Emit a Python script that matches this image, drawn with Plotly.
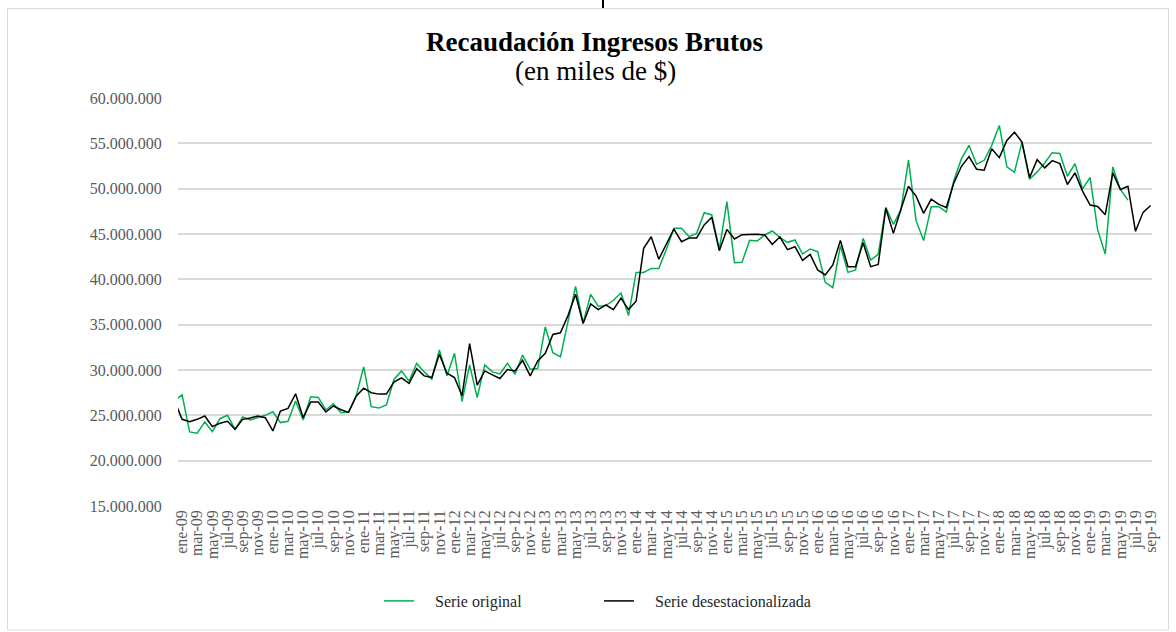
import plotly.graph_objects as go

# Monthly categories (first point dic-08 lies just outside the visible plot area, as in the reference)
meses = ["ene", "feb", "mar", "abr", "may", "jun", "jul", "ago", "sep", "oct", "nov", "dic"]
categorias = ["dic-08"] + [f"{m}-{y:02d}" for y in range(9, 20) for m in meses][:129]

# Values in millions of (miles de $)
serie_original_mill = [
    26.6, 27.27, 23.17, 23.02, 24.27, 23.2, 24.63, 25.0, 23.46, 24.82, 24.49, 24.78, 25.0,
    25.4, 24.2, 24.34, 26.58, 24.49, 27.05, 26.98, 25.59, 26.28, 25.29, 25.37, 27.1,
    30.35, 25.95, 25.8, 26.14, 28.96, 29.9, 28.77, 30.72, 29.79, 28.99, 32.2, 29.35,
    31.84, 26.54, 30.56, 26.97, 30.56, 29.79, 29.57, 30.74, 29.53, 31.65, 30.08, 30.16,
    34.76, 31.91, 31.44, 35.31, 39.22, 35.2, 38.35, 37.03, 37.1, 37.69, 38.49, 36.0,
    40.76, 40.76, 41.2, 41.2, 43.3, 45.63, 45.63, 44.71, 45.07, 47.35, 47.1, 43.31,
    48.57, 41.84, 41.88, 44.3, 44.23, 44.89, 45.33, 44.63, 44.08, 44.34, 42.79, 43.35,
    43.05, 39.67, 39.08, 43.71, 40.77, 41.03, 44.52, 42.13, 42.76, 47.94, 46.07, 47.65,
    53.15, 46.47, 44.28, 48.01, 48.01, 47.42, 50.93, 53.31, 54.78, 52.69, 53.13, 54.78,
    56.97, 52.4, 51.81, 55.14, 51.04, 51.85, 52.83, 53.97, 53.89, 51.37, 52.76, 49.98,
    51.23, 45.45, 42.78, 52.4, 49.91, 48.74,
]

serie_desest_mill = [
    26.6, 24.56, 24.3, 24.56, 24.93, 23.75, 24.12, 24.34, 23.46, 24.56, 24.7, 24.93, 24.74,
    23.28, 25.48, 25.77, 27.38, 24.74, 26.47, 26.47, 25.37, 26.03, 25.62, 25.33, 27.12,
    28.0, 27.49, 27.34, 27.34, 28.66, 29.14, 28.52, 30.13, 29.35, 29.17, 31.73, 29.64,
    29.17, 27.16, 32.9, 28.33, 29.9, 29.46, 29.06, 30.05, 29.9, 31.07, 29.35, 31.0,
    31.84, 33.92, 34.1, 36.0, 38.35, 35.13, 37.29, 36.66, 37.18, 36.66, 37.94, 36.66,
    37.58, 43.43, 44.7, 42.22, 43.8, 45.55, 44.15, 44.56, 44.56, 46.0, 46.84, 43.16,
    45.51, 44.45, 44.93, 44.96, 44.96, 44.89, 43.86, 44.67, 43.27, 43.6, 42.1, 42.76,
    41.03, 40.48, 41.58, 44.3, 41.4, 41.4, 44.04, 41.4, 41.65, 47.83, 45.07, 47.72,
    50.27, 49.18, 47.28, 48.85, 48.26, 47.93, 50.64, 52.47, 53.53, 52.14, 52.03, 54.41,
    53.42, 55.32, 56.23, 55.14, 51.22, 53.2, 52.29, 53.09, 52.76, 50.46, 51.74, 49.73,
    48.19, 48.04, 47.13, 51.74, 49.91, 50.27, 45.3, 47.39, 48.15,
]

serie_original = [v * 1_000_000 for v in serie_original_mill]
serie_desest = [v * 1_000_000 for v in serie_desest_mill]

tick_cats = categorias[1::2]
y_ticks = [15e6, 20e6, 25e6, 30e6, 35e6, 40e6, 45e6, 50e6, 55e6, 60e6]

FONT = "Liberation Serif"
W, H = 1176, 632
L, R, T, B = 178, 1152, 98, 506
PAD = "\u00a0" * 4

fig = go.Figure()
fig.add_trace(go.Scatter(x=categorias[:len(serie_original)], y=serie_original, mode="lines",
                         name=PAD + "Serie original", line=dict(color="#00B050", width=1.5)))
fig.add_trace(go.Scatter(x=categorias, y=serie_desest, mode="lines",
                         name=PAD + "Serie desestacionalizada", line=dict(color="#000000", width=1.5)))

pw, ph = R - L, B - T
def px_x(x):
    return (x - L) / pw
def px_y(y):
    return (B - y) / ph

fig.update_layout(
    width=W, height=H,
    margin=dict(l=L, r=W - R, t=T, b=H - B),
    paper_bgcolor="white", plot_bgcolor="white",
    separators=",.",
    font=dict(family=FONT, size=16, color="#595959"),
    showlegend=True,
    legend=dict(orientation="h", x=px_x(379), xanchor="left", y=px_y(601), yanchor="middle",
                font=dict(family=FONT, size=16, color="#262626"),
                entrywidth=175, entrywidthmode="pixels", bgcolor="rgba(0,0,0,0)"),
    xaxis=dict(type="category", range=[0.46, 129.18], tickmode="array",
               tickvals=tick_cats, ticktext=tick_cats, tickangle=-90,
               showgrid=False, zeroline=False, showline=False, ticks="",
               tickfont=dict(family=FONT, size=16, color="#595959")),
    yaxis=dict(range=[15e6, 60e6], tickmode="array", tickvals=y_ticks, tickformat=",.0f",
               showgrid=True, gridcolor="#D9D9D9", gridwidth=1.5, zeroline=False,
               showline=False, ticks="outside", ticklen=12, tickcolor="rgba(0,0,0,0)",
               tickfont=dict(family=FONT, size=16, color="#595959")),
    annotations=[
        dict(text="<b>Recaudación Ingresos Brutos</b>", xref="paper", yref="paper",
             x=px_x(594), y=px_y(42), xanchor="center", yanchor="middle", showarrow=False,
             font=dict(family=FONT, size=27, color="#000000")),
        dict(text="(en miles de $)", xref="paper", yref="paper",
             x=px_x(595), y=px_y(71), xanchor="center", yanchor="middle", showarrow=False,
             font=dict(family=FONT, size=27, color="#000000")),
    ],
    shapes=[
        dict(type="rect", xref="paper", yref="paper", x0=px_x(7.5), x1=px_x(1168.5),
             y0=px_y(630), y1=px_y(8.5), line=dict(color="#D9D9D9", width=1), layer="below"),
        dict(type="line", xref="paper", yref="paper", x0=px_x(603), x1=px_x(603),
             y0=px_y(0), y1=px_y(8), line=dict(color="#000000", width=2)),
    ],
)

fig.write_html("out.html", config={"displayModeBar": False},
               post_script="document.body.style.margin='0';")
